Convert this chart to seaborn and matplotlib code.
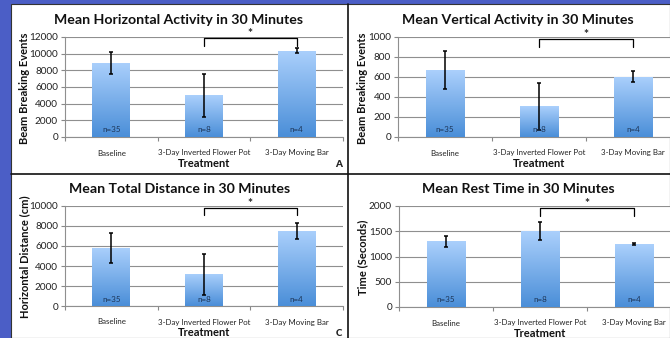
import numpy as np
import matplotlib
matplotlib.use("Agg")
import matplotlib.pyplot as plt
import matplotlib.transforms as mtransforms
from matplotlib.patches import Rectangle
from matplotlib.lines import Line2D
from matplotlib.colors import LinearSegmentedColormap
import seaborn as sns

# ---------------- data ----------------
categories = ["Baseline", "3-Day Inverted Flower Pot", "3-Day Moving Bar"]
n_labels = ["n=35", "n=8", "n=4"]

horiz_mean = [8900, 5000, 10350]
horiz_err = [1300, 2550, 300]

vert_mean = [670, 310, 605]
vert_err = [190, 235, 55]

dist_mean = [5800, 3200, 7500]
dist_err = [1500, 2050, 770]

rest_mean = [1300, 1500, 1240]
rest_err = [105, 180, 20]

titles = ["Mean Horizontal Activity in 30 Minutes",
          "Mean Vertical Activity in 30 Minutes",
          "Mean Total Distance in 30 Minutes",
          "Mean Rest Time in 30 Minutes"]
ylabels = ["Beam Breaking Events", "Beam Breaking Events",
           "Horizontal Distance (cm)", "Time (Seconds)"]
yticks = [[0, 2000, 4000, 6000, 8000, 10000, 12000],
          [0, 200, 400, 600, 800, 1000],
          [0, 2000, 4000, 6000, 8000, 10000],
          [0, 500, 1000, 1500, 2000]]
xlabel = "Treatment"
panel_letters = ["A", "C"]
sig_mark = "*"

# ---------------- style ----------------
sns.set_style("white")
plt.rcParams["font.family"] = ["Lato", "DejaVu Sans"]

W, H = 670, 338
fig = plt.figure(figsize=(W / 100, H / 100), dpi=100)
fig.patch.set_facecolor("#4b5ec6")


def fx(px):
    return px / W


def fy(py):
    return 1 - py / H


# white page area
fig.add_artist(Rectangle((fx(11), 0), 1 - fx(11), fy(4), transform=fig.transFigure,
                         facecolor="white", edgecolor="#333333", lw=0.8, zorder=-5))

grad_cmap = LinearSegmentedColormap.from_list("bar", ["#4a8ed8", "#abd0fc"])

# (left, right, top, bottom) in pixels, title center x, title y, ylabel x
panels = [
    dict(box=(65, 343, 37, 137), tx=179, ty=20, ylx=25, mean=horiz_mean, err=horiz_err,
         br=(0.99, 0.91)),
    dict(box=(398, 680, 37, 137), tx=518, ty=20, ylx=363, mean=vert_mean, err=vert_err,
         br=(0.98, 0.90)),
    dict(box=(65, 343, 206, 306), tx=180, ty=189, ylx=25, mean=dist_mean, err=dist_err,
         br=(0.983, 0.91)),
    dict(box=(399, 681, 206, 307), tx=518, ty=189, ylx=363, mean=rest_mean, err=rest_err,
         br=(0.985, 0.90)),
]

for i, p in enumerate(panels):
    l, r, t, b = p["box"]
    ax = fig.add_axes([fx(l), fy(b), (r - l) / W, (b - t) / H])
    ax.set_facecolor("white")
    sns.barplot(x=categories, y=p["mean"], ax=ax, color="#7fb0ea", width=0.41,
                saturation=1, zorder=3)
    ymax = yticks[i][-1]
    ax.set_ylim(0, ymax)
    ax.set_xlim(-0.5, 2.5)
    ax.set_yticks(yticks[i])
    ax.set_yticklabels([str(v) for v in yticks[i]], fontsize=7.2, color="#222222")
    ax.tick_params(axis="y", length=3, width=0.8, color="#888888", pad=2, direction="out", left=True)
    ax.set_xticks(range(len(categories)))
    ax.set_xticklabels(categories, fontsize=5.7, color="#222222")
    ax.tick_params(axis="x", which="major", length=0, pad=9)
    ax.set_xticks([-0.5, 0.5, 1.5, 2.5], minor=True)
    ax.tick_params(axis="x", which="minor", length=3, width=0.8, color="#888888", direction="out", bottom=True)
    ax.yaxis.grid(True, color="#8f8f8f", lw=0.8, zorder=0)
    ax.set_axisbelow(True)
    for s in ["top", "right"]:
        ax.spines[s].set_visible(False)
    for s in ["left", "bottom"]:
        ax.spines[s].set_color("#8f8f8f")
        ax.spines[s].set_linewidth(0.8)
    ax.set_xlabel(xlabel, fontsize=8, fontweight="bold", labelpad=1, color="#111111")
    ax.set_ylabel("")

    # gradient fill on bars
    for patch in list(ax.patches):
        bb = patch.get_bbox()
        grad = np.linspace(0, 1, 256).reshape(-1, 1)
        im = ax.imshow(grad, cmap=grad_cmap, origin="lower", aspect="auto",
                       extent=[bb.x0, bb.x1, bb.y0, bb.y1], zorder=3.5)
        im.set_clip_path(patch)
        patch.set_edgecolor("none")
    ax.set_xlim(-0.5, 2.5)
    ax.set_ylim(0, ymax)

    # error bars
    ax.errorbar(range(len(categories)), p["mean"], yerr=p["err"], fmt="none",
                ecolor="black", elinewidth=1.1, capsize=1.6, capthick=1.1, zorder=5)

    # n labels
    for k, lab in enumerate(n_labels):
        ax.text(k, 0.07 * ymax, lab, ha="center", va="center", fontsize=5.8,
                color="#1d3557", zorder=6)

    # significance bracket
    trans = mtransforms.blended_transform_factory(ax.transData, ax.transAxes)
    ytop, ybot = p["br"]
    ax.plot([1, 1, 2, 2], [ybot, ytop, ytop, ybot], color="black", lw=0.9,
            transform=trans, clip_on=False, zorder=6)
    ax.text(1.5, ytop - 0.01, sig_mark, ha="center", va="bottom", fontsize=8.5,
            fontweight="bold", transform=trans, clip_on=False)

    # title and ylabel
    fig.text(fx(p["tx"]), fy(p["ty"]), titles[i], ha="center", va="center",
             fontsize=10.2, fontweight="bold", color="#111111")
    fig.text(fx(p["ylx"]), fy((t + b) / 2 + 1), ylabels[i], ha="center", va="center",
             rotation=90, fontsize=8, fontweight="bold", color="#111111")

# panel letters
fig.text(fx(339), fy(165), panel_letters[0], ha="center", va="center", fontsize=7,
         fontweight="heavy")
fig.text(fx(339), fy(333), panel_letters[1], ha="center", va="center", fontsize=7,
         fontweight="heavy")

# divider lines
fig.add_artist(Line2D([fx(348), fx(348)], [0, fy(4)], transform=fig.transFigure,
                      color="#111111", lw=1.2, zorder=10))
fig.add_artist(Line2D([fx(11), 1], [fy(174), fy(174)], transform=fig.transFigure,
                      color="#111111", lw=1.2, zorder=10))

fig.savefig("out.png", dpi=100, facecolor=fig.get_facecolor())
